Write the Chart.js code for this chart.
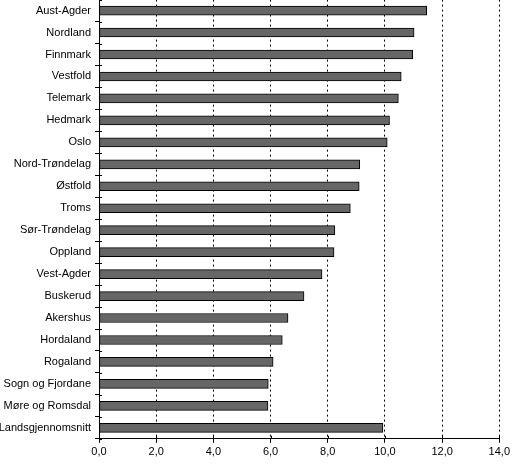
<!DOCTYPE html>
<html>
<head>
<meta charset="utf-8">
<script src="https://cdn.jsdelivr.net/npm/chart.js@4"></script>
<style>
  html, body { margin: 0; padding: 0; background: #fff; overflow: hidden; }
  /* canvas is a bit taller and moved up so the plot starts at the top edge */
  #wrap { width: 513px; height: 475px; margin-top: -11px; }
</style>
</head>
<body>
<div id="wrap"><canvas id="myChart"></canvas></div>
<script>
const fylker = [
  "Aust-Agder", "Nordland", "Finnmark", "Vestfold", "Telemark", "Hedmark",
  "Oslo", "Nord-Trøndelag", "Østfold", "Troms", "Sør-Trøndelag", "Oppland",
  "Vest-Agder", "Buskerud", "Akershus", "Hordaland", "Rogaland",
  "Sogn og Fjordane", "Møre og Romsdal", "Landsgjennomsnitt"
];
const verdier = [
  11.46, 11.02, 10.97, 10.57, 10.47, 10.16,
  10.08, 9.12, 9.10, 8.79, 8.25, 8.22,
  7.80, 7.17, 6.61, 6.41, 6.09,
  5.92, 5.91, 9.93
];
const xMin = 0;
const xMax = 14;
const xStep = 2;

Chart.defaults.font.family = "'Liberation Sans', Arial, sans-serif";
Chart.defaults.font.size = 11;
Chart.defaults.color = "#000";

// small tick stubs on the inner side of both axes
const crossTicks = {
  id: "crossTicks",
  afterDraw(chart) {
    const { ctx, chartArea, scales } = chart;
    ctx.save();
    ctx.strokeStyle = "#000";
    ctx.lineWidth = 1;
    ctx.beginPath();
    for (let i = 0; i <= fylker.length; i++) {
      const y = Math.round(scales.y.getPixelForValue(i - 0.5)) + 0.5;
      ctx.moveTo(chartArea.left, y);
      ctx.lineTo(chartArea.left + 3, y);
    }
    for (let v = xMin; v <= xMax; v += xStep) {
      const x = Math.round(scales.x.getPixelForValue(v)) + 0.5;
      ctx.moveTo(x, chartArea.bottom);
      ctx.lineTo(x, chartArea.bottom - 3);
    }
    ctx.stroke();
    ctx.restore();
  },
};

const ctx = document.getElementById("myChart");

new Chart(ctx, {
  type: "bar",
  data: {
    labels: fylker,
    datasets: [
      {
        data: verdier,
        backgroundColor: "#666666",
        borderColor: "#000",
        borderWidth: 1,
        borderSkipped: false,
        barThickness: 9,
      },
    ],
  },
  options: {
    indexAxis: "y",
    responsive: true,
    maintainAspectRatio: false,
    animation: false,
    layout: {
      padding: { top: 0, right: 0, bottom: 2, left: 0 },
    },
    plugins: {
      legend: { display: false },
      tooltip: { enabled: false },
    },
    scales: {
      x: {
        min: xMin,
        max: xMax,
        ticks: {
          stepSize: xStep,
          padding: 3,
          callback: (v) => v.toFixed(1).replace(".", ","),
        },
        grid: {
          color: "#000",
          lineWidth: 1,
          tickLength: 4,
          tickColor: "#000",
          tickBorderDash: [],
        },
        border: {
          display: true,
          color: "#000",
          width: 1,
          dash: [2, 3],
        },
      },
      y: {
        afterFit: (scale) => {
          scale.width = 99;
        },
        ticks: {
          padding: 4,
        },
        grid: {
          drawOnChartArea: false,
          tickLength: 4,
          tickColor: "#000",
        },
        border: {
          color: "#000",
          width: 1,
        },
      },
    },
  },
  plugins: [crossTicks],
});
</script>
</body>
</html>
